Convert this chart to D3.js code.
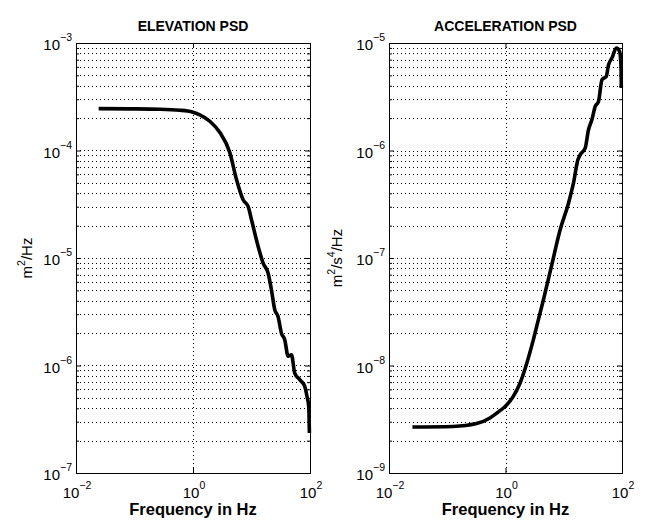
<!DOCTYPE html>
<html><head><meta charset="utf-8">
<script src="https://cdn.jsdelivr.net/npm/d3@7"></script>
<style>
body{margin:0;background:#fff;}
svg{display:block;font-family:"Liberation Sans",Arial,Helvetica,sans-serif;}
</style></head>
<body><svg id="c" width="647" height="530"></svg>
<script>
// ---- data ----
const elevFreq = [0.0244,0.0836,0.272,0.597,0.8,1.0,1.31,1.94,2.88,4.26,5.55,7.19,8.75,10.0,13.0,15.8,19.2,21.9,25.0,28.4,32.5,37.0,42.2,48.2,54.8,66.7,81.3,88.9,95.1,97.7];
const elevPsd  = [2.45e-4,2.44e-4,2.42e-4,2.37e-4,2.33e-4,2.27e-4,2.15e-4,1.87e-4,1.47e-4,9.55e-5,5.35e-5,3.48e-5,3.02e-5,2.27e-5,1.28e-5,8.97e-6,7.24e-6,5.07e-6,3.30e-6,2.86e-6,2.00e-6,1.74e-6,1.22e-6,1.26e-6,8.51e-7,7.38e-7,6.40e-7,5.15e-7,4.16e-7,2.36e-7];
const accFreq  = [0.0253,0.126,0.319,0.541,0.804,0.993,1.36,1.78,2.32,3.01,3.67,4.48,6.24,8.67,12.1,14.7,17.5,19.2,23.3,26.6,30.5,34.7,39.5,45.3,53.7,58.8,67.3,79.8,91.0,96.2,97.3];
const accPsd   = [2.68e-9,2.71e-9,2.88e-9,3.25e-9,3.80e-9,4.17e-9,5.16e-9,6.88e-9,1.05e-8,1.74e-8,2.67e-8,4.09e-8,8.67e-8,1.83e-7,3.25e-7,4.99e-7,8.20e-7,9.14e-7,1.05e-6,1.56e-6,1.94e-6,2.57e-6,2.86e-6,4.56e-6,4.89e-6,6.28e-6,7.24e-6,8.98e-6,8.35e-6,6.05e-6,3.81e-6];
const xTickExps = [-2, 0, 2];
const elevYExps = [-7, -6, -5, -4, -3];
const accYExps  = [-9, -8, -7, -6, -5];
const titles = ["ELEVATION PSD", "ACCELERATION PSD"];
const xLabel = "Frequency in Hz";

const svg = d3.select("#c");
const minus = "\u2212";

function panel(cfg){
  const {x0,x1,y0,y1,yExps,freq,psd,title,ylab,ylabX} = cfg;
  const x = d3.scaleLog().domain([1e-2,1e2]).range([x0,x1]);
  const y = d3.scaleLog().domain([Math.pow(10,yExps[0]),Math.pow(10,yExps[yExps.length-1])]).range([y1,y0]);
  const g = svg.append("g");

  const yTicks = y.ticks();
  const xTicksMajor = xTickExps.map(e=>Math.pow(10,e));
  g.append("g").selectAll("line").data(yTicks.filter(v=>y(v)>y0+0.5 && y(v)<y1-0.5)).join("line")
    .attr("x1",x0).attr("x2",x1).attr("y1",d=>Math.round(y(d))+0.5).attr("y2",d=>Math.round(y(d))+0.5)
    .attr("stroke","#000").attr("stroke-width",1).attr("stroke-dasharray","1,3");
  g.append("g").selectAll("line").data(xTicksMajor.filter(v=>x(v)>x0+0.5 && x(v)<x1-0.5)).join("line")
    .attr("y1",y0).attr("y2",y1).attr("x1",d=>Math.round(x(d))+0.5).attr("x2",d=>Math.round(x(d))+0.5)
    .attr("stroke","#000").attr("stroke-width",1).attr("stroke-dasharray","1,3");

  const isMajor = v => Math.abs(Math.log10(v)-Math.round(Math.log10(v)))<1e-6;
  const axL = d3.axisLeft(y).tickValues(yTicks).tickFormat("").tickSizeOuter(0).tickSizeInner(-3);
  const axR = d3.axisRight(y).tickValues(yTicks).tickFormat("").tickSizeOuter(0).tickSizeInner(-3);
  const axB = d3.axisBottom(x).tickValues(xTicksMajor).tickFormat("").tickSizeOuter(0).tickSizeInner(-5);
  const axT = d3.axisTop(x).tickValues(xTicksMajor).tickFormat("").tickSizeOuter(0).tickSizeInner(-5);
  const addAx = (ax, tr, grow) => {
    const a = g.append("g").attr("transform",tr).call(ax);
    a.select(".domain").remove();
    a.selectAll(".tick line").attr("stroke","#000");
    if(grow) a.selectAll(".tick").filter(d=>isMajor(d)).select("line").each(function(){
      const l=d3.select(this); ["x2","y2"].forEach(k=>{const v=+l.attr(k); if(v) l.attr(k, v*5/3);});
    });
  };
  addAx(axL,`translate(${x0},0)`,true);
  addAx(axR,`translate(${x1},0)`,true);
  addAx(axB,`translate(0,${y1})`,false);
  addAx(axT,`translate(0,${y0})`,false);

  g.append("rect").attr("x",x0+0.5).attr("y",y0+0.5).attr("width",x1-x0).attr("height",y1-y0)
    .attr("fill","none").attr("stroke","#000").attr("stroke-width",1);

  const pts = freq.map((f,i)=>[f,psd[i]]);
  g.append("path").datum(pts)
    .attr("d", d3.line().x(d=>x(d[0])).y(d=>y(d[1])).curve(d3.curveMonotoneX))
    .attr("fill","none").attr("stroke","#000").attr("stroke-width",3.6)
    .attr("stroke-linejoin","round").attr("stroke-linecap","butt");

  yExps.forEach(e=>{
    const t = g.append("text").attr("x",x0-4).attr("y",y(Math.pow(10,e))+7)
      .attr("text-anchor","end").attr("font-size",15).attr("fill","#000");
    t.append("tspan").text("10");
    t.append("tspan").attr("dy",-9).attr("font-size",10.5).text(e<0?minus+Math.abs(e):String(e));
  });
  xTickExps.forEach(e=>{
    const t = g.append("text").attr("x",x(Math.pow(10,e))+1).attr("y",y1+25)
      .attr("text-anchor","middle").attr("font-size",15).attr("fill","#000");
    t.append("tspan").text("10");
    t.append("tspan").attr("dy",-9).attr("font-size",10.5).text(e<0?minus+Math.abs(e):String(e));
  });

  g.append("text").attr("x",(x0+x1)/2).attr("y",y0-12).attr("text-anchor","middle")
    .attr("font-size",14).attr("font-weight","bold").text(title);
  g.append("text").attr("x",(x0+x1)/2).attr("y",y1+42).attr("text-anchor","middle")
    .attr("font-size",16.5).attr("font-weight","bold").text(xLabel);
  const yl = g.append("text").attr("transform",`translate(${ylabX},${(y0+y1)/2}) rotate(-90)`)
    .attr("text-anchor","middle").attr("font-size",15);
  ylab.forEach(p=>{
    const s = yl.append("tspan").text(p.t);
    if(p.sup){ s.attr("font-size",10.5).attr("dy",-7); }
    else if(p.after){ s.attr("dy",7); }
  });
}

panel({x0:76,x1:310,y0:43,y1:473,yExps:elevYExps,freq:elevFreq,psd:elevPsd,title:titles[0],
  ylab:[{t:"m"},{t:"2",sup:true},{t:"/Hz",after:true}], ylabX:32});
panel({x0:389,x1:622,y0:43,y1:473,yExps:accYExps,freq:accFreq,psd:accPsd,title:titles[1],
  ylab:[{t:"m"},{t:"2",sup:true},{t:"/s",after:true},{t:"4",sup:true},{t:"/Hz",after:true}], ylabX:342});
</script></body></html>
